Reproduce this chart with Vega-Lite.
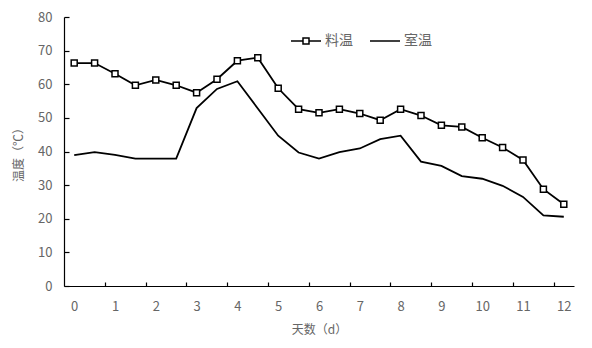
{
  "$schema": "https://vega.github.io/schema/vega-lite/v6.json",
  "width": 510,
  "height": 269,
  "autosize": "none",
  "padding": {"left": 64, "top": 17, "right": 18, "bottom": 62},
  "background": "white",
  "config": {
    "view": {"stroke": null},
    "font": "Noto Sans CJK SC",
    "axis": {"grid": false, "ticks": true, "domainColor": "#000", "domainWidth": 1.2, "tickColor": "#000", "tickWidth": 1.2, "labelColor": "#666", "labelFontSize": 13, "titleColor": "#666", "titleFontSize": 12, "titleFontWeight": "normal"}
  },
  "data": {"values": [
    {"d": 0, "s": "料温", "t": 66.3}, {"d": 0.5, "s": "料温", "t": 66.3}, {"d": 1, "s": "料温", "t": 63.1},
    {"d": 1.5, "s": "料温", "t": 59.7}, {"d": 2, "s": "料温", "t": 61.3}, {"d": 2.5, "s": "料温", "t": 59.7},
    {"d": 3, "s": "料温", "t": 57.5}, {"d": 3.5, "s": "料温", "t": 61.5}, {"d": 4, "s": "料温", "t": 67.0},
    {"d": 4.5, "s": "料温", "t": 67.9}, {"d": 5, "s": "料温", "t": 58.8}, {"d": 5.5, "s": "料温", "t": 52.6},
    {"d": 6, "s": "料温", "t": 51.5}, {"d": 6.5, "s": "料温", "t": 52.6}, {"d": 7, "s": "料温", "t": 51.3},
    {"d": 7.5, "s": "料温", "t": 49.3}, {"d": 8, "s": "料温", "t": 52.6}, {"d": 8.5, "s": "料温", "t": 50.7},
    {"d": 9, "s": "料温", "t": 47.8}, {"d": 9.5, "s": "料温", "t": 47.3}, {"d": 10, "s": "料温", "t": 44.1},
    {"d": 10.5, "s": "料温", "t": 41.2}, {"d": 11, "s": "料温", "t": 37.5}, {"d": 11.5, "s": "料温", "t": 28.8},
    {"d": 12, "s": "料温", "t": 24.3},
    {"d": 0, "s": "室温", "t": 38.9}, {"d": 0.5, "s": "室温", "t": 39.8}, {"d": 1, "s": "室温", "t": 39.0},
    {"d": 1.5, "s": "室温", "t": 37.9}, {"d": 2, "s": "室温", "t": 37.9}, {"d": 2.5, "s": "室温", "t": 37.9},
    {"d": 3, "s": "室温", "t": 52.9}, {"d": 3.5, "s": "室温", "t": 58.6}, {"d": 4, "s": "室温", "t": 60.9},
    {"d": 4.5, "s": "室温", "t": 52.8}, {"d": 5, "s": "室温", "t": 44.7}, {"d": 5.5, "s": "室温", "t": 39.7},
    {"d": 6, "s": "室温", "t": 37.9}, {"d": 6.5, "s": "室温", "t": 39.8}, {"d": 7, "s": "室温", "t": 40.9},
    {"d": 7.5, "s": "室温", "t": 43.7}, {"d": 8, "s": "室温", "t": 44.7}, {"d": 8.5, "s": "室温", "t": 37.0},
    {"d": 9, "s": "室温", "t": 35.7}, {"d": 9.5, "s": "室温", "t": 32.7}, {"d": 10, "s": "室温", "t": 31.9},
    {"d": 10.5, "s": "室温", "t": 29.8}, {"d": 11, "s": "室温", "t": 26.5}, {"d": 11.5, "s": "室温", "t": 21.0},
    {"d": 12, "s": "室温", "t": 20.6}
  ]},
  "encoding": {
    "x": {
      "field": "d", "type": "quantitative",
      "scale": {"domain": [-0.25, 12.25], "nice": false, "zero": false},
      "axis": {
        "title": "天数（d）",
        "values": [0, 0.75, 1, 1.75, 2, 2.75, 3, 3.75, 4, 4.75, 5, 5.75, 6, 6.75, 7, 7.75, 8, 8.75, 9, 9.75, 10, 10.75, 11, 11.75, 12],
        "labelExpr": "datum.value % 1 === 0 ? format(datum.value, 'd') : ''",
        "tickOpacity": {"condition": {"test": "datum.value % 1 === 0", "value": 0}, "value": 1},
        "tickSize": -4,
        "labelPadding": 18,
        "titlePadding": 11
      }
    },
    "y": {
      "field": "t", "type": "quantitative",
      "scale": {"domain": [0, 80], "nice": false},
      "axis": {"title": "温度（℃）", "values": [0, 10, 20, 30, 40, 50, 60, 70, 80], "tickSize": -5, "labelPadding": 17, "titlePadding": 12}
    }
  },
  "layer": [
    {
      "mark": {"type": "line", "strokeWidth": 1.8},
      "encoding": {
        "detail": {"field": "s"},
        "color": {"value": "#000"}
      }
    },
    {
      "transform": [{"filter": "datum.s === '料温'"}],
      "mark": {"type": "point", "shape": "square", "filled": true, "fill": "white", "stroke": "#000", "strokeWidth": 1.5, "size": 36, "opacity": 1}
    },
    {
      "mark": {"type": "point", "opacity": 0},
      "encoding": {
        "shape": {
          "field": "s", "type": "nominal",
          "scale": {"domain": ["料温", "室温"], "range": ["M-1,0H-0.2M0.2,0H1M-0.2,-0.2H0.2V0.2H-0.2Z", "M-1,0H1"]},
          "legend": {
            "title": null, "orient": "none", "direction": "horizontal",
            "legendX": 226, "legendY": 8, "padding": 0,
            "symbolSize": 900, "symbolStrokeWidth": 1.5, "symbolStrokeColor": "#000", "symbolFillColor": "white",
            "symbolOpacity": 1, "labelFontSize": 14, "labelColor": "#666", "labelOffset": 3, "columnPadding": 14
          }
        }
      }
    }
  ]
}
